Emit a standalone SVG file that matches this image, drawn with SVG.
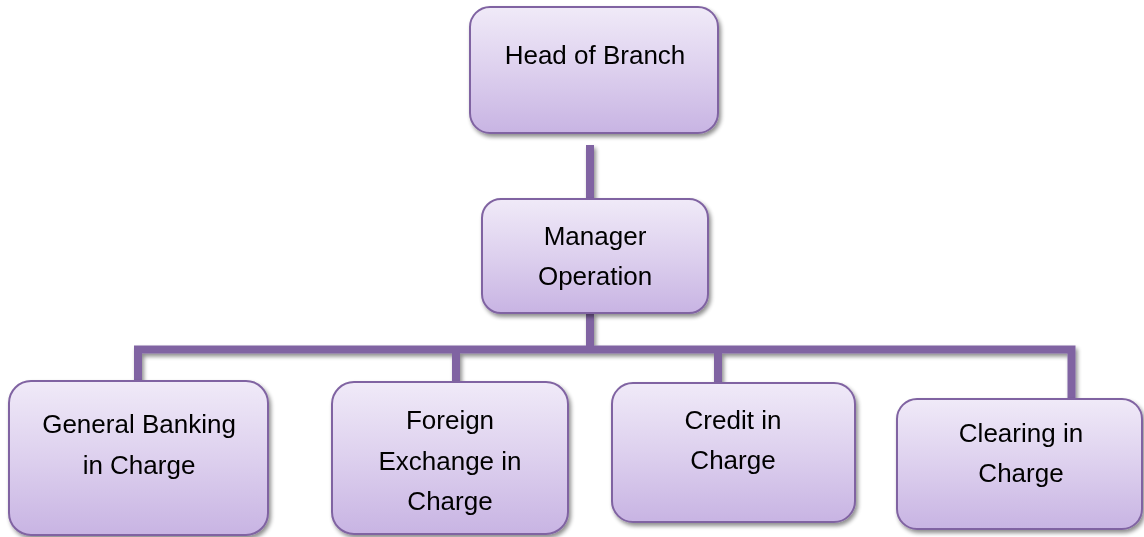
<svg xmlns="http://www.w3.org/2000/svg" width="1144" height="537" viewBox="0 0 1144 537">
  <defs>
    <linearGradient id="boxFill" x1="0" y1="0" x2="0" y2="1">
      <stop offset="0" stop-color="#F0EAF8"/>
      <stop offset="0.5" stop-color="#DDD0EE"/>
      <stop offset="1" stop-color="#C8B4E3"/>
    </linearGradient>
    <filter id="shadow" x="-10%" y="-10%" width="125%" height="130%">
      <feGaussianBlur in="SourceAlpha" stdDeviation="2.2"/>
      <feOffset dx="1.5" dy="3" result="b"/>
      <feComponentTransfer><feFuncA type="linear" slope="0.45"/></feComponentTransfer>
      <feMerge><feMergeNode/><feMergeNode in="SourceGraphic"/></feMerge>
    </filter>
  </defs>
  <style>
    .box { fill: url(#boxFill); stroke: #8064A2; stroke-width: 2; }
    .wire { fill: none; stroke: #8064A2; stroke-width: 8; stroke-linecap: butt; stroke-linejoin: miter; }
    .label { font-family: "Liberation Sans", Arial, sans-serif; font-size: 26px; fill: #000; text-anchor: middle; }
  </style>
  <rect width="1144" height="537" fill="#FFFFFF"/>

  <!-- connectors -->
  <g id="connectors" filter="url(#shadow)">
    <path class="wire" d="M590 145 V199"/>
    <path class="wire" d="M590 313 V349.5"/>
    <path class="wire" d="M138 381 V349.5 H1071.5 V399"/>
    <path class="wire" d="M456 349.5 V382"/>
    <path class="wire" d="M718 349.5 V383"/>
  </g>

  <g id="head-of-branch" filter="url(#shadow)">
    <rect class="box" x="470" y="7" width="248" height="126" rx="20"/>
    <text class="label" x="595" y="64">Head of Branch</text>
  </g>

  <g id="manager-operation" filter="url(#shadow)">
    <rect class="box" x="482" y="199" width="226" height="114" rx="19"/>
    <text class="label" x="595" y="245">Manager</text>
    <text class="label" x="595" y="285">Operation</text>
  </g>

  <g id="general-banking" filter="url(#shadow)">
    <rect class="box" x="9" y="381" width="259" height="154" rx="22"/>
    <text class="label" x="139" y="433">General Banking</text>
    <text class="label" x="139" y="474">in Charge</text>
  </g>

  <g id="foreign-exchange" filter="url(#shadow)">
    <rect class="box" x="332" y="382" width="236" height="152" rx="22"/>
    <text class="label" x="450" y="429">Foreign</text>
    <text class="label" x="450" y="470">Exchange in</text>
    <text class="label" x="450" y="510">Charge</text>
  </g>

  <g id="credit" filter="url(#shadow)">
    <rect class="box" x="612" y="383" width="243" height="139" rx="21"/>
    <text class="label" x="733" y="429">Credit in</text>
    <text class="label" x="733" y="469">Charge</text>
  </g>

  <g id="clearing" filter="url(#shadow)">
    <rect class="box" x="897" y="399" width="245" height="130" rx="20"/>
    <text class="label" x="1021" y="442">Clearing in</text>
    <text class="label" x="1021" y="482">Charge</text>
  </g>
</svg>
